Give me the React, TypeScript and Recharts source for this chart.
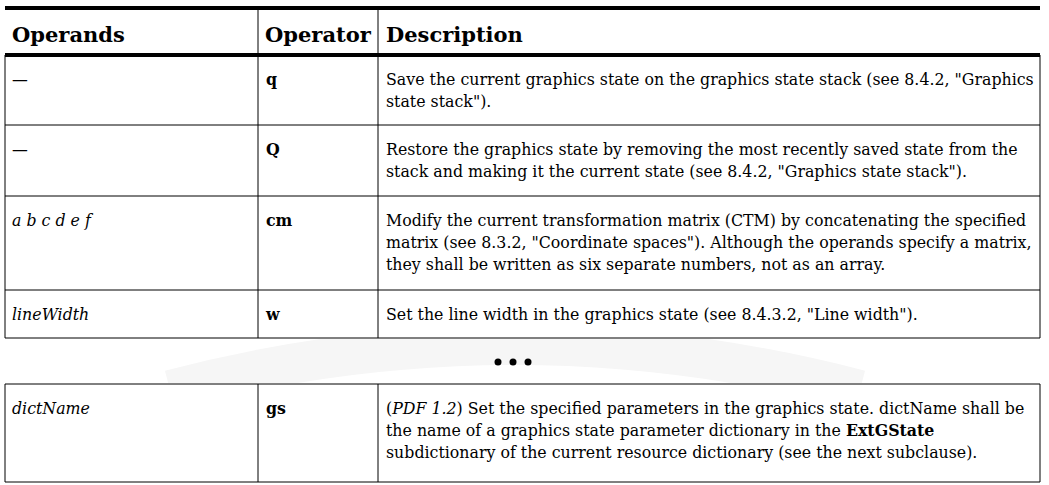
import React from "react";
import { ComposedChart, Customized } from "recharts";

const headers = ["Operands", "Operator", "Description"];
const operands = ["—", "—", "a b c d e f", "lineWidth", "dictName"];
const operandItalic = [false, false, true, true, true];
const operators = ["q", "Q", "cm", "w", "gs"];
const descriptions: any[][][] = [
  [["Save the current graphics state on the graphics state stack (see 8.4.2, \"Graphics"], ["state stack\")."]],
  [["Restore the graphics state by removing the most recently saved state from the"], ["stack and making it the current state (see 8.4.2, \"Graphics state stack\")."]],
  [["Modify the current transformation matrix (CTM) by concatenating the specified"], ["matrix (see 8.3.2, \"Coordinate spaces\"). Although the operands specify a matrix,"], ["they shall be written as six separate numbers, not as an array."]],
  [["Set the line width in the graphics state (see 8.4.3.2, \"Line width\")."]],
  [[["(", false], ["PDF 1.2", true], [") Set the specified parameters in the graphics state. dictName shall be", false]], ["the name of a graphics state parameter dictionary in the ", ["ExtGState", "b"]], ["subdictionary of the current resource dictionary (see the next subclause)."]],
];
const rowTops = [55, 125, 196, 290, 384];
const rowBottoms = [125, 196, 290, 338, 482];
const colX = [5, 258, 378, 1040];

const FONT = "DejaVu Serif";
const FS = 15.8;

function Table() {
  const els: React.ReactNode[] = [];
  els.push(
    <clipPath key="cp" id="gapclip"><rect x={0} y={339} width={1049} height={44} /></clipPath>
  );
  els.push(<path key="wm" d="M170 390 Q 513 300 860 390" stroke="#f6f6f6" strokeWidth={40} fill="none" clipPath="url(#gapclip)" />);
  els.push(<rect key="t1" x={5} y={6} width={1035} height={4} fill="#000" />);
  els.push(<rect key="t2" x={5} y={53} width={1035} height={4} fill="#000" />);
  els.push(<line key="hv1" x1={colX[1]} x2={colX[1]} y1={8} y2={55} stroke="#000" />);
  els.push(<line key="hv2" x1={colX[2]} x2={colX[2]} y1={8} y2={55} stroke="#000" />);
  const hx = [12, 265, 386];
  headers.forEach((h, i) =>
    els.push(<text key={"h" + i} x={hx[i]} y={42} fontFamily={FONT} fontWeight="bold" fontSize={21}>{h}</text>)
  );
  operands.forEach((op, r) => {
    const top = rowTops[r];
    const bot = rowBottoms[r];
    colX.forEach((x, c) =>
      els.push(<line key={`v${r}${c}`} x1={x} x2={x} y1={top} y2={bot} stroke="#000" />)
    );
    if (r > 0) els.push(<line key={"ht" + r} x1={5} x2={1040} y1={top} y2={top} stroke="#000" />);
    if (r === 3 || r === 4) els.push(<line key={"hb" + r} x1={5} x2={1040} y1={bot} y2={bot} stroke="#000" />);
    const y0 = top + 30;
    els.push(<text key={"o" + r} x={12} y={y0} fontFamily={FONT} fontSize={FS} fontStyle={operandItalic[r] ? "italic" : "normal"}>{op}</text>);
    els.push(<text key={"p" + r} x={266} y={y0} fontFamily={FONT} fontSize={FS} fontWeight="bold">{operators[r]}</text>);
    descriptions[r].forEach((line, li) => {
      els.push(
        <text key={`d${r}${li}`} x={386} y={y0 + li * 22} fontFamily={FONT} fontSize={FS}>
          {line.map((seg: any, si: number) =>
            typeof seg === "string" ? (
              <tspan key={si}>{seg}</tspan>
            ) : (
              <tspan key={si} fontStyle={seg[1] === true ? "italic" : "normal"} fontWeight={seg[1] === "b" ? "bold" : "normal"}>{seg[0]}</tspan>
            )
          )}
        </text>
      );
    });
  });
  [498, 513, 528].forEach((x, i) => els.push(<circle key={"dot" + i} cx={x} cy={362} r={3.5} fill="#000" />));
  return <g>{els}</g>;
}

export default function App() {
  React.useEffect(() => {
    document.body.style.margin = "0";
  }, []);
  return (
    <div style={{ background: "#fff", width: 1049, height: 485 }}>
      <ComposedChart width={1049} height={485} data={operators.map((o) => ({ o }))} margin={{ top: 0, right: 0, bottom: 0, left: 0 }}>
        <Customized component={Table} />
      </ComposedChart>
    </div>
  );
}
